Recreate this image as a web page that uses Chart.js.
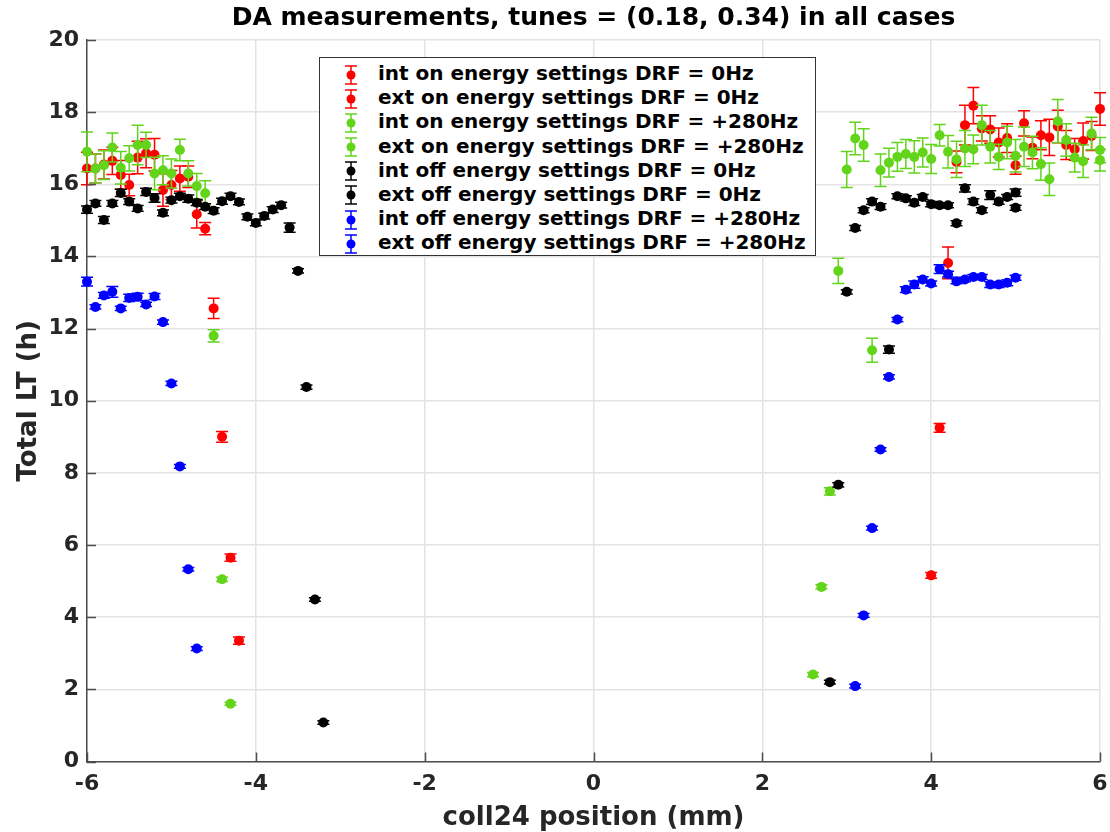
<!DOCTYPE html>
<html>
<head>
<meta charset="utf-8">
<script src="https://cdn.jsdelivr.net/npm/chart.js@4/dist/chart.umd.min.js"></script>
<style>
	body { margin: 0; background: #fff; }
	#wrap { position: relative; width: 1110px; height: 832px; }
	#legend {
		position: absolute; left: 319px; top: 57px; width: 497px; height: 199px;
		border: 1px solid #333; background: #fff; box-sizing: border-box;
		padding-top: 3px;
		font-family: 'DejaVu Sans', sans-serif; font-weight: bold; font-size: 20px; color: #000;
	}
	#legend .row { height: 24.2px; line-height: 24.2px; white-space: nowrap; }
	#legend svg { vertical-align: middle; margin-left: 21px; margin-right: 17px; }
</style>
</head>
<body>
<div id="wrap">
	<canvas id="chart" width="1110" height="832"></canvas>
	<div id="legend"></div>
</div>
<script>
// red: on energy settings, DRF = 0Hz
const redIntX = [-6.0, -5.9, -5.8, -5.7, -5.6, -5.5, -5.4, -5.3, -5.2, -5.1, -5.0, -4.9, -4.8, -4.7, -4.6, -4.5, -4.4, -4.3, -4.2];
const redIntY = [16.44, 16.44, 16.55, 16.65, 16.26, 15.98, 16.74, 16.86, 16.82, 15.84, 15.98, 16.16, 16.21, 15.17, 14.77, 12.56, 9.00, 5.65, 3.35];
const redIntErr = [0.45, 0.4, 0.4, 0.38, 0.4, 0.3, 0.45, 0.4, 0.45, 0.45, 0.4, 0.35, 0.3, 0.38, 0.17, 0.28, 0.15, 0.1, 0.1];

const redExtX = [4.0, 4.1, 4.2, 4.3, 4.4, 4.5, 4.6, 4.7, 4.8, 4.9, 5.0, 5.1, 5.2, 5.3, 5.4, 5.5, 5.6, 5.7, 5.8, 5.9, 6.0];
const redExtY = [5.16, 9.25, 13.82, 16.62, 17.64, 18.18, 17.55, 17.52, 17.16, 17.28, 16.53, 17.69, 17.01, 17.36, 17.30, 17.60, 17.09, 16.97, 17.20, 17.34, 18.09];
const redExtErr = [0.08, 0.12, 0.44, 0.3, 0.55, 0.5, 0.35, 0.38, 0.4, 0.4, 0.25, 0.35, 0.3, 0.4, 0.5, 0.45, 0.4, 0.3, 0.5, 0.4, 0.45];

// green: on energy settings, DRF = +280Hz
const greenIntX = [-6.0, -5.9, -5.8, -5.7, -5.6, -5.5, -5.4, -5.3, -5.2, -5.1, -5.0, -4.9, -4.8, -4.7, -4.6, -4.5, -4.4, -4.3];
const greenIntY = [16.90, 16.44, 16.53, 17.02, 16.46, 16.72, 17.09, 17.09, 16.30, 16.39, 16.30, 16.95, 16.30, 15.95, 15.75, 11.80, 5.05, 1.60];
const greenIntErr = [0.55, 0.4, 0.4, 0.4, 0.45, 0.35, 0.55, 0.35, 0.45, 0.4, 0.4, 0.3, 0.35, 0.35, 0.35, 0.17, 0.06, 0.04];

const greenExtX = [2.6, 2.7, 2.8, 2.9, 3.0, 3.1, 3.2, 3.3, 3.4, 3.5, 3.6, 3.7, 3.8, 3.9, 4.0, 4.1, 4.2, 4.3, 4.4, 4.5, 4.6, 4.7, 4.8, 4.9, 5.0, 5.1, 5.2, 5.3, 5.4, 5.5, 5.6, 5.7, 5.8, 5.9, 6.0, 6.0];
const greenExtY = [2.41, 4.84, 7.49, 13.60, 16.41, 17.27, 17.09, 11.40, 16.39, 16.60, 16.76, 16.84, 16.76, 16.88, 16.70, 17.36, 16.90, 16.69, 16.99, 16.97, 17.64, 17.04, 16.76, 17.16, 16.79, 17.04, 16.88, 16.56, 16.14, 17.75, 17.23, 16.74, 16.64, 17.41, 16.95, 16.67];
const greenExtErr = [0.06, 0.06, 0.1, 0.35, 0.5, 0.45, 0.45, 0.33, 0.45, 0.4, 0.4, 0.4, 0.45, 0.4, 0.4, 0.3, 0.45, 0.5, 0.5, 0.4, 0.55, 0.45, 0.35, 0.45, 0.45, 0.55, 0.45, 0.45, 0.45, 0.6, 0.45, 0.4, 0.45, 0.45, 0.35, 0.3];

// black: off energy settings, DRF = 0Hz
const blackIntX = [-6.0, -5.9, -5.8, -5.7, -5.6, -5.5, -5.4, -5.3, -5.2, -5.1, -5.0, -4.9, -4.8, -4.7, -4.6, -4.5, -4.4, -4.3, -4.2, -4.1, -4.0, -3.9, -3.8, -3.7, -3.6, -3.5, -3.4, -3.3, -3.2];
const blackIntY = [15.30, 15.47, 15.01, 15.47, 15.76, 15.52, 15.33, 15.79, 15.62, 15.21, 15.56, 15.67, 15.60, 15.49, 15.38, 15.27, 15.53, 15.67, 15.51, 15.10, 14.93, 15.12, 15.30, 15.42, 14.80, 13.60, 10.38, 4.49, 1.08];
const blackIntErr = [0.1, 0.08, 0.1, 0.08, 0.1, 0.08, 0.08, 0.1, 0.12, 0.08, 0.08, 0.08, 0.1, 0.08, 0.08, 0.08, 0.08, 0.08, 0.08, 0.08, 0.08, 0.08, 0.08, 0.08, 0.13, 0.06, 0.06, 0.05, 0.05];

const blackExtX = [2.8, 2.9, 3.0, 3.1, 3.2, 3.3, 3.4, 3.5, 3.6, 3.7, 3.8, 3.9, 4.0, 4.1, 4.2, 4.3, 4.4, 4.5, 4.6, 4.7, 4.8, 4.9, 5.0, 5.0];
const blackExtY = [2.20, 7.67, 13.02, 14.79, 15.28, 15.52, 15.38, 11.42, 15.67, 15.61, 15.49, 15.65, 15.45, 15.42, 15.42, 14.92, 15.89, 15.52, 15.28, 15.70, 15.52, 15.65, 15.77, 15.35];
const blackExtErr = [0.05, 0.06, 0.06, 0.07, 0.07, 0.08, 0.08, 0.1, 0.07, 0.07, 0.08, 0.07, 0.07, 0.07, 0.07, 0.07, 0.1, 0.08, 0.07, 0.12, 0.07, 0.07, 0.1, 0.07];

// blue: off energy settings, DRF = +280Hz
const blueIntX = [-6.0, -5.9, -5.8, -5.7, -5.6, -5.5, -5.4, -5.3, -5.2, -5.1, -5.0, -4.9, -4.8, -4.7];
const blueIntY = [13.30, 12.60, 12.92, 13.02, 12.56, 12.85, 12.88, 12.67, 12.89, 12.18, 10.48, 8.18, 5.33, 3.13];
const blueIntErr = [0.12, 0.06, 0.08, 0.15, 0.06, 0.1, 0.1, 0.06, 0.08, 0.06, 0.06, 0.05, 0.05, 0.05];

const blueExtX = [3.1, 3.2, 3.3, 3.4, 3.5, 3.6, 3.7, 3.8, 3.9, 4.0, 4.1, 4.2, 4.3, 4.4, 4.5, 4.6, 4.7, 4.8, 4.9, 5.0];
const blueExtY = [2.09, 4.05, 6.47, 8.65, 10.66, 12.25, 13.08, 13.22, 13.36, 13.25, 13.65, 13.51, 13.31, 13.36, 13.43, 13.43, 13.22, 13.22, 13.27, 13.41];
const blueExtErr = [0.05, 0.05, 0.05, 0.05, 0.06, 0.06, 0.08, 0.1, 0.08, 0.07, 0.12, 0.08, 0.07, 0.06, 0.07, 0.07, 0.08, 0.08, 0.08, 0.07];

const xTicks = [-6, -4, -2, 0, 2, 4, 6];
const yTicks = [0, 2, 4, 6, 8, 10, 12, 14, 16, 18, 20];

const RED = '#ff0000';
const GREEN = '#62d41a';
const BLACK = '#000000';
const BLUE = '#0000ff';

const series = [
	{ label: 'int on energy settings DRF = 0Hz', color: RED, x: redIntX, y: redIntY, err: redIntErr },
	{ label: 'ext on energy settings DRF = 0Hz', color: RED, x: redExtX, y: redExtY, err: redExtErr },
	{ label: 'int on energy settings DRF = +280Hz', color: GREEN, x: greenIntX, y: greenIntY, err: greenIntErr },
	{ label: 'ext on energy settings DRF = +280Hz', color: GREEN, x: greenExtX, y: greenExtY, err: greenExtErr },
	{ label: 'int off energy settings DRF = 0Hz', color: BLACK, x: blackIntX, y: blackIntY, err: blackIntErr },
	{ label: 'ext off energy settings DRF = 0Hz', color: BLACK, x: blackExtX, y: blackExtY, err: blackExtErr },
	{ label: 'int off energy settings DRF = +280Hz', color: BLUE, x: blueIntX, y: blueIntY, err: blueIntErr },
	{ label: 'ext off energy settings DRF = +280Hz', color: BLUE, x: blueExtX, y: blueExtY, err: blueExtErr },
];

const AXIS = '#4d4d4d';
const TICKTXT = '#262626';
const FONT = "'DejaVu Sans', sans-serif";

// vertical error bars, drawn just before each dataset's markers
const errorBars = {
	id: 'errorBars',
	beforeDatasetDraw(chart, args) {
		const s = series[args.index];
		const xs = chart.scales.x, ys = chart.scales.y;
		const ctx = chart.ctx;
		ctx.save();
		ctx.strokeStyle = s.color;
		ctx.lineWidth = 1.5;
		s.x.forEach((xv, i) => {
			const px = xs.getPixelForValue(xv);
			const top = ys.getPixelForValue(s.y[i] + s.err[i]);
			const bot = ys.getPixelForValue(s.y[i] - s.err[i]);
			ctx.beginPath();
			ctx.moveTo(px, top); ctx.lineTo(px, bot);
			ctx.moveTo(px - 6, top); ctx.lineTo(px + 6, top);
			ctx.moveTo(px - 6, bot); ctx.lineTo(px + 6, bot);
			ctx.stroke();
		});
		ctx.restore();
	}
};

// MATLAB style inward tick marks on the left and bottom axes
const innerTicks = {
	id: 'innerTicks',
	afterDatasetsDraw(chart) {
		const { ctx, chartArea: a, scales } = chart;
		ctx.save();
		ctx.strokeStyle = AXIS;
		ctx.lineWidth = 1.5;
		ctx.beginPath();
		yTicks.forEach(v => {
			const py = Math.round(scales.y.getPixelForValue(v)) + 0.5;
			ctx.moveTo(a.left, py); ctx.lineTo(a.left + 9, py);
		});
		xTicks.forEach(v => {
			const px = Math.round(scales.x.getPixelForValue(v)) + 0.5;
			ctx.moveTo(px, a.bottom); ctx.lineTo(px, a.bottom - 9);
		});
		ctx.stroke();
		ctx.restore();
	}
};

const datasets = series.map((s, i) => ({
	label: s.label,
	data: s.x.map((xv, k) => ({ x: xv, y: s.y[k] })),
	backgroundColor: s.color,
	borderColor: s.color,
	pointRadius: 5,
	pointBorderWidth: 0,
	pointHoverRadius: 5,
	showLine: false,
	clip: false,
	order: 7 - i,
}));

new Chart(document.getElementById('chart'), {
	type: 'scatter',
	data: { datasets },
	plugins: [errorBars, innerTicks],
	options: {
		responsive: false,
		animation: false,
		devicePixelRatio: 1,
		layout: { padding: { left: 0, right: 10, top: 0, bottom: 0 } },
		plugins: {
			legend: { display: false },
			tooltip: { enabled: false },
			title: {
				display: true,
				fullSize: false,
				text: 'DA measurements, tunes = (0.18, 0.34) in all cases',
				color: '#000',
				font: { family: FONT, size: 25, weight: 'bold' },
				padding: { top: 3, bottom: 7 },
			},
		},
		scales: {
			x: {
				type: 'linear', min: -6, max: 6,
				afterFit: sc => { sc.height = 70.5; sc.paddingLeft = 0; sc.paddingRight = 0; },
				afterBuildTicks: sc => { sc.ticks = xTicks.map(v => ({ value: v })); },
				ticks: { color: TICKTXT, font: { family: FONT, size: 22, weight: 'bold' }, padding: 10 },
				grid: { color: '#e3e3e3', lineWidth: 1.5, drawTicks: false },
				border: { color: AXIS, width: 1.5 },
				title: {
					display: true, text: 'coll24 position (mm)', color: '#262626',
					font: { family: FONT, size: 26, weight: 'bold' }, padding: { top: 0, bottom: -2 },
				},
			},
			y: {
				type: 'linear', min: 0, max: 20,
				afterFit: sc => { sc.width = 87; sc.paddingTop = 0; sc.paddingBottom = 0; },
				afterBuildTicks: sc => { sc.ticks = yTicks.map(v => ({ value: v })); },
				ticks: { color: TICKTXT, font: { family: FONT, size: 22, weight: 'bold' }, padding: 8 },
				grid: { color: '#e3e3e3', lineWidth: 1.5, drawTicks: false },
				border: { color: AXIS, width: 1.5 },
				title: {
					display: true, text: 'Total LT (h)', color: '#262626',
					font: { family: FONT, size: 26, weight: 'bold' }, padding: { top: 14, bottom: 0 },
				},
			},
		},
	},
});

// legend box with error-bar markers
const legend = document.getElementById('legend');
series.forEach(s => {
	const row = document.createElement('div');
	row.className = 'row';
	row.innerHTML =
		'<svg width="20" height="24" viewBox="0 0 20 24">' +
		'<g stroke="' + s.color + '" stroke-width="1.5">' +
		'<line x1="10" y1="3" x2="10" y2="21"/><line x1="4" y1="3" x2="16" y2="3"/><line x1="4" y1="21" x2="16" y2="21"/></g>' +
		'<circle cx="10" cy="12" r="4.5" fill="' + s.color + '"/></svg>' +
		'<span>' + s.label + '</span>';
	legend.appendChild(row);
});
</script>
</body>
</html>
